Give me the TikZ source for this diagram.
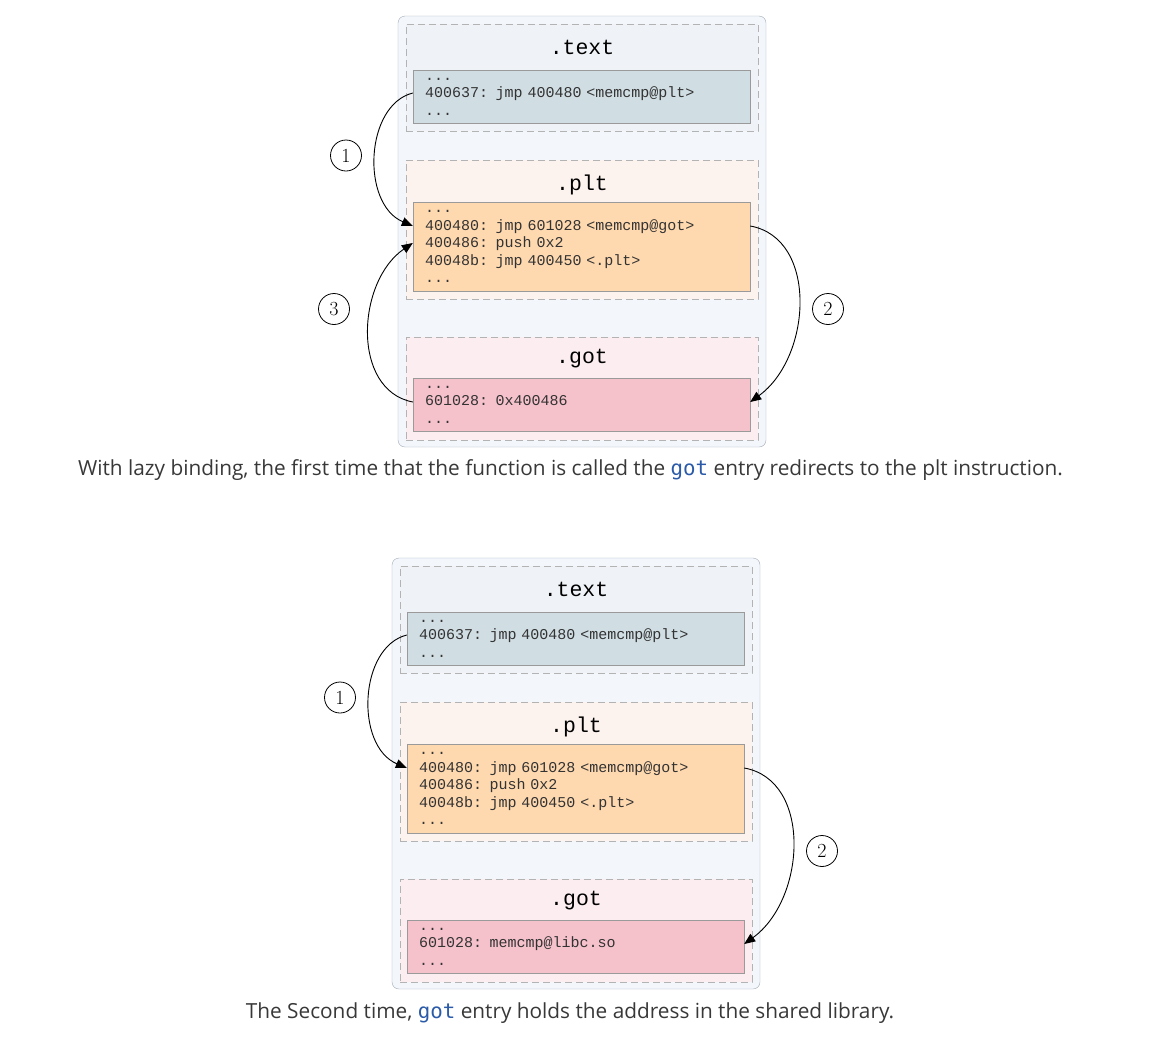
\documentclass[tikz,border=0pt]{standalone}
\usepackage{fontspec}
\setmonofont{Liberation Mono}
\newfontfamily\captionfont{Open Sans}
\newfontfamily\gotfont{DejaVu Sans Mono}
\usetikzlibrary{arrows.meta,positioning}

\definecolor{outerfill}{HTML}{F3F7FC}
\definecolor{outerline}{HTML}{A0A8B6}
\definecolor{dashline}{HTML}{B3B3B3}
\definecolor{boxline}{HTML}{9A9A9A}
\definecolor{textsec}{HTML}{EFF3F7}
\definecolor{textbox}{HTML}{D0DDE3}
\definecolor{pltsec}{HTML}{FDF3EE}
\definecolor{pltbox}{HTML}{FED8AF}
\definecolor{gotsec}{HTML}{FBEDF0}
\definecolor{gotbox}{HTML}{F5C1CB}
\definecolor{gotblue}{HTML}{2B5BA8}
\definecolor{captiongray}{HTML}{383838}

\tikzset{
  outerbox/.style={draw=outerline, fill=outerfill, rounded corners=7pt,
                   minimum width=368pt, minimum height=431pt},
  secbox/.style={draw=dashline, dash pattern=on 7pt off 4pt, minimum width=352pt},
  sectitle/.style={font=\ttfamily\fontsize{21.5}{24}\selectfont},
  codebox/.style={draw=boxline, minimum width=337pt, text width=313pt,
                  inner xsep=12pt, inner ysep=0pt, align=left,
                  text=black!80, font=\ttfamily\fontsize{15}{17.5}\selectfont},
  stepmark/.style={circle, draw, line width=0.8pt, minimum size=31pt, inner sep=0pt,
                   font=\fontsize{20}{20}\selectfont},
  link/.style={->, line width=0.9pt},
  caption/.style={text=captiongray, font=\captionfont\fontsize{20.8}{24}\selectfont}
}

% one memory layout; #1 is the value held in the got entry
\newcommand{\memsections}[1]{%
  \node[outerbox] (mem) at (582,231.5) {};
  \node[secbox, fill=textsec, minimum height=107pt] (textsec) at (582,77.5) {};
  \node[secbox, fill=pltsec, minimum height=139pt] (pltsec) at (582,229.5) {};
  \node[secbox, fill=gotsec, minimum height=103pt] (gotsec) at (582,388.5) {};
  \node[sectitle] (texttitle) at (582,47) {.text};
  \node[sectitle] (plttitle) at (582,185) {.plt};
  \node[sectitle] (gottitle) at (582,359) {.got};
  \node[codebox, fill=textbox, minimum height=53pt] (textcode) at (581.5,96.5)
    {...\\400637: jmp 400480 <memcmp@plt>\\...};
  \node[codebox, fill=pltbox, minimum height=89pt] (pltcode) at (581.5,246.5)
    {...\\400480: jmp 601028 <memcmp@got>\\400486: push 0x2\\40048b: jmp 400450 <.plt>\\...};
  \node[codebox, fill=gotbox, minimum height=53pt] (gotcode) at (581.5,404.5)
    {...\\601028: #1\\...};
}

\begin{document}
\begin{tikzpicture}[x=1pt,y=-1pt,>={Triangle[length=11pt,width=9pt]}]
  \useasboundingbox (0,0) rectangle (1173,1050);

  % first call
  \begin{scope}[name prefix=lazy-]
    \memsections{0x400486}
    \node[stepmark] (one) at (346,155.5) {1};
    \node[stepmark] (two) at (828,309) {2};
    \node[stepmark] (three) at (334,309) {3};
    \draw[link] ([yshift=3.5pt]textcode.west)
      .. controls +(-48,12) and +(-52,-22) .. ([yshift=20.5pt]pltcode.west);
    \draw[link] ([yshift=20.5pt]pltcode.east)
      .. controls +(68,12) and +(62,-45) .. ([yshift=2.5pt]gotcode.east);
    \draw[link] ([yshift=2.5pt]gotcode.west)
      .. controls +(-62,-12) and +(-56,38) .. ([yshift=3.5pt]pltcode.west);
  \end{scope}
  \node[caption] (lazycap) at (570.5,470)
    {With lazy binding, the first time that the function is called the
     \textcolor{gotblue}{\gotfont got} entry redirects to the plt instruction.};

  % second call
  \begin{scope}[shift={(-6,542)}, name prefix=bound-]
    \memsections{memcmp@libc.so}
    \node[stepmark] (one) at (346,155.5) {1};
    \node[stepmark] (two) at (828,309) {2};
    \draw[link] ([yshift=3.5pt]textcode.west)
      .. controls +(-48,12) and +(-52,-22) .. ([yshift=20.5pt]pltcode.west);
    \draw[link] ([yshift=20.5pt]pltcode.east)
      .. controls +(68,12) and +(62,-45) .. ([yshift=2.5pt]gotcode.east);
  \end{scope}
  \node[caption] (boundcap) at (570,1013)
    {The Second time, \textcolor{gotblue}{\gotfont got} entry holds the address in the shared library.};
\end{tikzpicture}
\end{document}
